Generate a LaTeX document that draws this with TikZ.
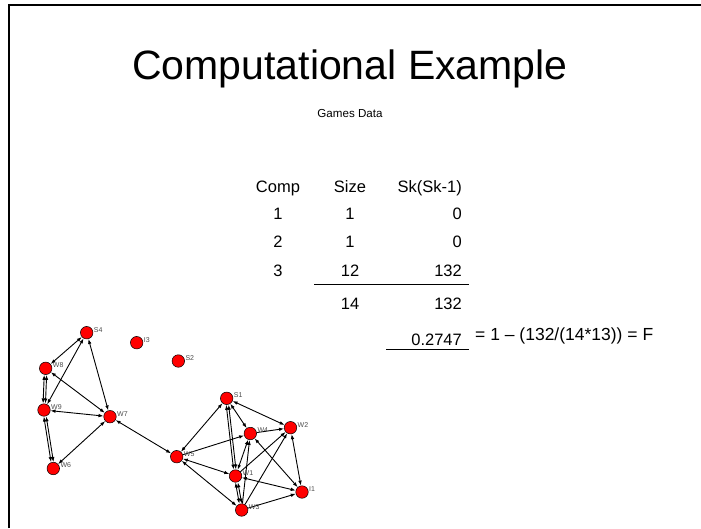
\documentclass[tikz,border=0pt]{standalone}
\usepackage{fontspec}
\setmainfont{Liberation Sans}
\usetikzlibrary{arrows.meta, backgrounds}

\begin{document}
\begin{tikzpicture}[x=1pt, y=-1pt, >={Latex[length=5pt,width=3.6pt]}]
    % --- SETTINGS ---
    \def\colA{278}
    \def\colB{350}
    \def\colC{462}
    \tikzset{
        player/.style={circle, draw=black, line width=0.5pt, fill=red,
            minimum size=12.5pt, inner sep=0pt},
        tag/.style={font=\fontsize{7}{8}\selectfont, text=black!70,
            inner sep=0.5pt, yshift=3pt},
        tie/.style={<->, line width=0.9pt},
        cell/.style={font=\fontsize{16.5}{18}\selectfont, inner sep=0pt, anchor=base},
    }
    \useasboundingbox (0,0) rectangle (701,528);

    % Frame (left and top edge only)
    \draw[line width=2pt] (9,528) -- (9,5) -- (701,5);

    % =========================================
    % HEADING
    % =========================================
    \node[font=\fontsize{41}{48}\selectfont, anchor=base] (title) at (350,79) {Computational Example};
    \node[font=\fontsize{11.6}{14}\selectfont] (sub) at (350,114) {Games Data};

    % =========================================
    % COMPONENT TABLE
    % =========================================
    \node[cell] (hA) at (\colA,192) {Comp};
    \node[cell] (hB) at (\colB,192) {Size};
    \node[cell, anchor=base east] (hC) at (\colC,192) {Sk(Sk-1)};
    \foreach \r/\y/\s/\p in {1/219/1/0, 2/247/1/0, 3/276/12/132} {
        \node[cell] (a\r) at (\colA,\y) {\r};
        \node[cell] (b\r) at (\colB,\y) {\s};
        \node[cell, anchor=base east] (c\r) at (\colC,\y) {\p};
    }
    \draw[line width=0.8pt] (314,284.5) -- (469,284.5);
    \node[cell] (bsum) at (\colB,309) {14};
    \node[cell, anchor=base east] (csum) at (\colC,309) {132};
    \node[cell, anchor=base east] (ratio) at (\colC,345) {0.2747};
    \draw[line width=0.8pt] (386,349.5) -- (469,349.5);
    \node[cell, font=\fontsize{17.5}{19}\selectfont, anchor=base west] (eq) at (475,340) {= 1 -- (132/(14*13)) = F};

    % =========================================
    % GAMES NETWORK
    % =========================================
    \node[player, label={[tag]east:S4}] (S4) at (86.7,332.7) {};
    \node[player, label={[tag]east:I3}] (I3) at (136.7,342.7) {};
    \node[player, label={[tag]east:S2}] (S2) at (178.3,361) {};
    \node[player, label={[tag]east:W8}] (W8) at (45.7,368.3) {};
    \node[player, label={[tag]east:W9}] (W9) at (44,410) {};
    \node[player, label={[tag]east:W7}] (W7) at (110,416.7) {};
    \node[player, label={[tag]east:W6}] (W6) at (53.3,468.5) {};
    \node[player, label={[tag]east:W5}] (W5) at (176.7,456.7) {};
    \node[player, label={[tag]east:S1}] (S1) at (226.7,398.3) {};
    \node[player, label={[tag]east:W4}] (W4) at (250.3,433.5) {};
    \node[player, label={[tag]east:W2}] (W2) at (290.5,427.7) {};
    \node[player, label={[tag]east:W1}] (W1) at (235.5,476) {};
    \node[player, label={[tag]east:I1}] (I1) at (302,492) {};
    \node[player, label={[tag]east:W3}] (W3) at (241.7,510) {};

    \begin{scope}[on background layer]
        % Ties in both directions
        \foreach \a/\b in {S4/W8, S4/W9, S4/W7, W8/W7, W9/W7, W6/W7, W7/W5,
                           W5/S1, W5/W1, W5/W3, S1/W4, S1/W2, W4/W1, W4/I1,
                           W2/I1, W1/I1}
            \draw[tie] (\a) -- (\b);

        % One-way ties
        \foreach \a/\b in {W5/W4, W4/W2, W1/W2, W3/W2, W3/I1, W3/W4}
            \draw[tie, ->] (\a) -- (\b);

        % Doubled ties
        \foreach \a/\b in {W8/W9, W9/W6, S1/W1, W1/W3} {
            \draw[tie, transform canvas={xshift=-1.2pt}] (\a) -- (\b);
            \draw[tie, transform canvas={xshift=1.2pt}] (\a) -- (\b);
        }
    \end{scope}

\end{tikzpicture}
\end{document}
